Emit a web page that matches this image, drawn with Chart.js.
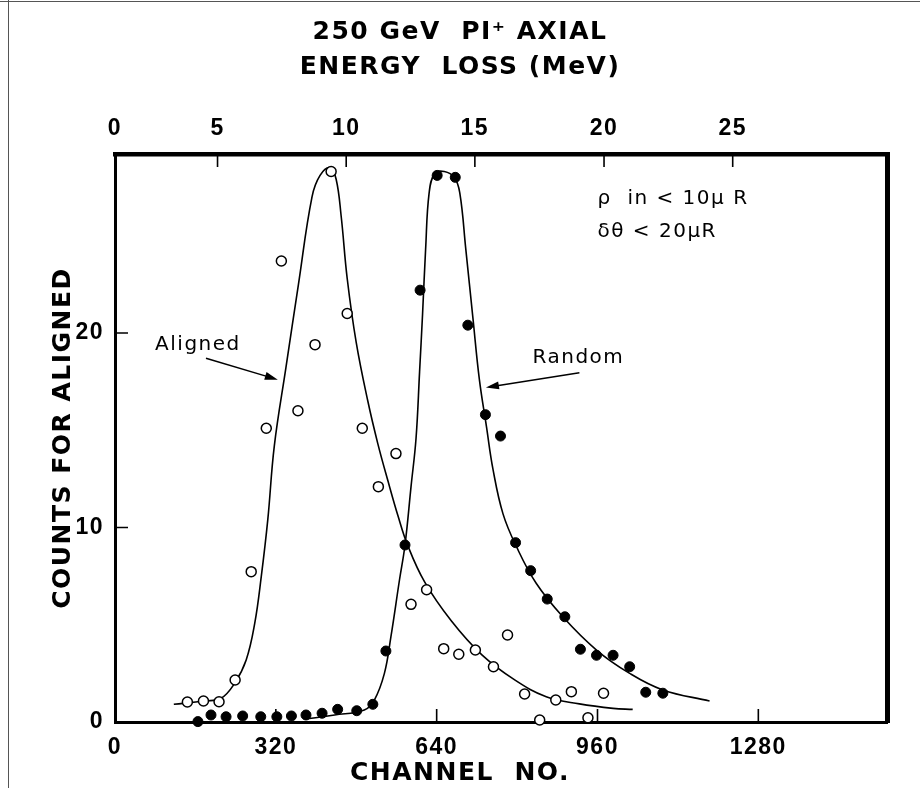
<!DOCTYPE html>
<html>
<head>
<meta charset="utf-8">
<script src="https://cdn.jsdelivr.net/npm/chart.js@4.4.1/dist/chart.umd.min.js"></script>
<style>
  html, body { margin: 0; padding: 0; background: #fff; }
</style>
</head>
<body>
<canvas id="chart" width="920" height="788"></canvas>
<script>
// --- Data ---
const alignedChannel = [144, 176, 207, 239, 271, 301, 331, 364, 398, 430, 462, 492, 524, 559, 589, 620, 654, 684, 717, 753, 781, 815, 845, 877, 908, 941, 972];
const alignedCounts  = [1.03, 1.08, 1.04, 2.16, 7.73, 15.1, 23.7, 16.0, 19.4, 28.3, 21.0, 15.1, 12.1, 13.8, 6.05, 6.8, 3.77, 3.48, 3.70, 2.84, 4.47, 1.44, 0.10, 1.13, 1.56, 0.22, 1.48];

const randomChannel = [165, 191, 221, 254, 290, 322, 351, 380, 412, 443, 481, 513, 539, 577, 607, 641, 677, 702, 737, 767, 797, 827, 860, 895, 926, 958, 991, 1024, 1056, 1090];
const randomCounts  = [0.02, 0.36, 0.27, 0.31, 0.27, 0.27, 0.31, 0.36, 0.45, 0.65, 0.58, 0.91, 3.65, 9.1, 22.2, 28.1, 28.0, 20.4, 15.8, 14.7, 9.22, 7.78, 6.32, 5.41, 3.74, 3.43, 3.43, 2.84, 1.53, 1.48];

// hand-drawn fit curves
const alignedFitChannel = [117, 178, 211, 238, 261, 278, 291, 304, 317, 340, 365, 392, 408, 428, 440, 450, 462, 480, 503, 523, 543, 563, 582, 616, 669, 730, 796, 858, 924, 991, 1030];
const alignedFitCounts  = [0.91, 1.08, 1.22, 1.99, 3.19, 5.07, 7.47, 10.4, 14.2, 18.2, 22.5, 27.0, 28.1, 28.5, 27.9, 26.0, 22.8, 19.5, 16.5, 14.3, 12.4, 10.6, 9.1, 7.2, 5.2, 3.45, 2.15, 1.30, 0.93, 0.70, 0.65];

const randomFitChannel = [377, 437, 496, 516, 536, 549, 566, 577, 589, 599, 606, 612, 618, 625, 636, 655, 675, 686, 698, 712, 725, 739, 752, 772, 799, 838, 891, 958, 1024, 1090, 1183];
const randomFitCounts  = [0.14, 0.36, 0.62, 1.13, 2.5, 4.39, 7.3, 9.1, 12.1, 14.6, 18.0, 21.0, 24.3, 27.2, 28.2, 28.3, 28.0, 27.2, 24.3, 20.8, 17.6, 15.2, 13.0, 10.7, 9.0, 7.13, 5.41, 3.70, 2.5, 1.65, 1.08];

// axes
const channelTicks = [0, 320, 640, 960, 1280];
const countTicks = [0, 10, 20];
const energyTickLabels = [0, 5, 10, 15, 20, 25];
const energyTickChannels = [0, 204, 460, 716, 973, 1229];

// --- Annotations (data units) ---
const notes = [
  { text: 'Aligned', x: 165, y: 19.4, align: 'center' },
  { text: 'Random', x: 922, y: 18.7, align: 'center' },
  { text: 'ρ  in < 10μ R', x: 960, y: 26.9, align: 'left' },
  { text: 'δθ < 20μR', x: 960, y: 25.2, align: 'left' }
];
const arrows = [
  { from: [181, 18.7], to: [324, 17.6] },
  { from: [924, 17.96], to: [738, 17.2] }
];

const FONT = '"DejaVu Sans", "Liberation Sans", sans-serif';
const TICK_FONT = '"Liberation Sans", "DejaVu Sans", sans-serif';
Chart.defaults.font.family = FONT;
Chart.defaults.color = '#000';

const toXY = (xs, ys) => xs.map((x, i) => ({ x: x, y: ys[i] }));

// spacing like the hand lettering
const lettering = {
  id: 'lettering',
  beforeLayout(chart) { chart.ctx.letterSpacing = '1.5px'; },
  beforeDraw(chart) {
    const ctx = chart.ctx;
    ctx.letterSpacing = '1.5px';
    // scan frame edges
    ctx.save();
    ctx.strokeStyle = '#555';
    ctx.lineWidth = 1;
    ctx.beginPath();
    ctx.moveTo(8.5, 0); ctx.lineTo(8.5, chart.height);
    ctx.moveTo(0, 1.5); ctx.lineTo(chart.width, 1.5);
    ctx.stroke();
    ctx.restore();
  }
};

// ticks pointing into the frame
const innerTicks = {
  id: 'innerTicks',
  afterDraw(chart) {
    const { ctx, chartArea: a, scales } = chart;
    ctx.save();
    ctx.strokeStyle = '#000';
    ctx.lineWidth = 1.6;
    ctx.beginPath();
    channelTicks.forEach(v => {
      const x = scales.x.getPixelForValue(v);
      ctx.moveTo(x, a.bottom); ctx.lineTo(x, a.bottom - 13);
    });
    energyTickChannels.forEach(v => {
      const x = scales.x2.getPixelForValue(v);
      ctx.moveTo(x, a.top); ctx.lineTo(x, a.top + 13);
    });
    countTicks.forEach(v => {
      const y = scales.y.getPixelForValue(v);
      ctx.moveTo(a.left, y); ctx.lineTo(a.left + 13, y);
    });
    ctx.stroke();
    ctx.restore();
  }
};

const annotations = {
  id: 'annotations',
  afterDatasetsDraw(chart) {
    const { ctx, scales } = chart;
    const px = v => scales.x.getPixelForValue(v);
    const py = v => scales.y.getPixelForValue(v);
    ctx.save();
    ctx.fillStyle = '#000';
    ctx.strokeStyle = '#000';
    ctx.font = '20px ' + FONT;
    ctx.textBaseline = 'middle';
    notes.forEach(n => {
      ctx.textAlign = n.align;
      ctx.fillText(n.text, px(n.x), py(n.y));
    });
    ctx.lineWidth = 1.5;
    arrows.forEach(ar => {
      const x0 = px(ar.from[0]), y0 = py(ar.from[1]);
      const x1 = px(ar.to[0]), y1 = py(ar.to[1]);
      const ang = Math.atan2(y1 - y0, x1 - x0);
      ctx.beginPath();
      ctx.moveTo(x0, y0);
      ctx.lineTo(x1 - 8 * Math.cos(ang), y1 - 8 * Math.sin(ang));
      ctx.stroke();
      ctx.beginPath();
      ctx.moveTo(x1, y1);
      ctx.lineTo(x1 - 13 * Math.cos(ang) + 4 * Math.sin(ang), y1 - 13 * Math.sin(ang) - 4 * Math.cos(ang));
      ctx.lineTo(x1 - 13 * Math.cos(ang) - 4 * Math.sin(ang), y1 - 13 * Math.sin(ang) + 4 * Math.cos(ang));
      ctx.closePath();
      ctx.fill();
    });
    ctx.restore();
  }
};

const curveStyle = {
  type: 'line',
  showLine: true,
  borderColor: '#000',
  borderWidth: 1.6,
  pointRadius: 0,
  fill: false,
  tension: 0.4,
  clip: false,
  order: 2
};

const tickFont = { family: TICK_FONT, size: 23, weight: 'bold' };
const plainLabel = v => String(v);

new Chart(document.getElementById('chart'), {
  type: 'scatter',
  data: {
    datasets: [
      Object.assign({ label: 'Aligned fit', data: toXY(alignedFitChannel, alignedFitCounts) }, curveStyle),
      Object.assign({ label: 'Random fit', data: toXY(randomFitChannel, randomFitCounts) }, curveStyle),
      {
        label: 'Aligned',
        data: toXY(alignedChannel, alignedCounts),
        pointRadius: 5,
        pointBackgroundColor: '#fff',
        pointBorderColor: '#000',
        pointBorderWidth: 1.5,
        clip: false,
        order: 1
      },
      {
        label: 'Random',
        data: toXY(randomChannel, randomCounts),
        pointRadius: 5,
        pointBackgroundColor: '#000',
        pointBorderColor: '#000',
        pointBorderWidth: 1,
        clip: false,
        order: 1
      }
    ]
  },
  options: {
    responsive: false,
    animation: false,
    layout: { padding: 0 },
    plugins: {
      legend: { display: false },
      tooltip: { enabled: false },
      title: {
        display: true,
        text: ['250 GeV  PI\u207A AXIAL', 'ENERGY  LOSS (MeV)'],
        font: { size: 25, weight: 'bold', lineHeight: 1.4 },
        color: '#000',
        padding: { top: 14.5, bottom: 0 }
      },
      subtitle: {
        display: true,
        position: 'bottom',
        text: 'CHANNEL  NO.',
        font: { size: 25, weight: 'bold', lineHeight: 1 },
        color: '#000',
        padding: { top: 0, bottom: 2.5 }
      }
    },
    scales: {
      x: {
        type: 'linear',
        position: 'bottom',
        min: 0,
        max: 1536,
        grid: { display: false },
        border: { display: true, color: '#000', width: 3 },
        afterBuildTicks: s => { s.ticks = channelTicks.map(v => ({ value: v })); },
        afterFit: s => { s.height = 38.5; },
        ticks: { font: tickFont, color: '#000', padding: 4, maxRotation: 0, autoSkip: false, callback: plainLabel }
      },
      x2: {
        type: 'linear',
        position: 'top',
        min: 0,
        max: 1536,
        grid: { display: false },
        border: { display: true, color: '#000', width: 4.5 },
        afterBuildTicks: s => { s.ticks = energyTickChannels.map(v => ({ value: v })); },
        afterFit: s => { s.height = 69.5; },
        ticks: {
          font: tickFont, color: '#000', padding: 4, maxRotation: 0, autoSkip: false,
          callback: (v, i) => energyTickLabels[i]
        }
      },
      y: {
        type: 'linear',
        position: 'left',
        min: 0,
        max: 29.2,
        grid: { display: false },
        border: { display: true, color: '#000', width: 3 },
        afterBuildTicks: s => { s.ticks = countTicks.map(v => ({ value: v })); },
        afterFit: s => { s.width = 115; },
        ticks: { font: tickFont, color: '#000', padding: 3, callback: plainLabel },
        title: { display: true, text: 'COUNTS FOR ALIGNED', font: { size: 25, weight: 'bold', lineHeight: 1 }, color: '#000', padding: { top: 51, bottom: 0 } }
      },
      y2: {
        type: 'linear',
        position: 'right',
        min: 0,
        max: 29.2,
        grid: { display: false },
        border: { display: true, color: '#000', width: 5 },
        ticks: { display: false },
        afterFit: s => { s.width = 33; }
      }
    }
  },
  plugins: [lettering, innerTicks, annotations]
});
</script>
</body>
</html>
